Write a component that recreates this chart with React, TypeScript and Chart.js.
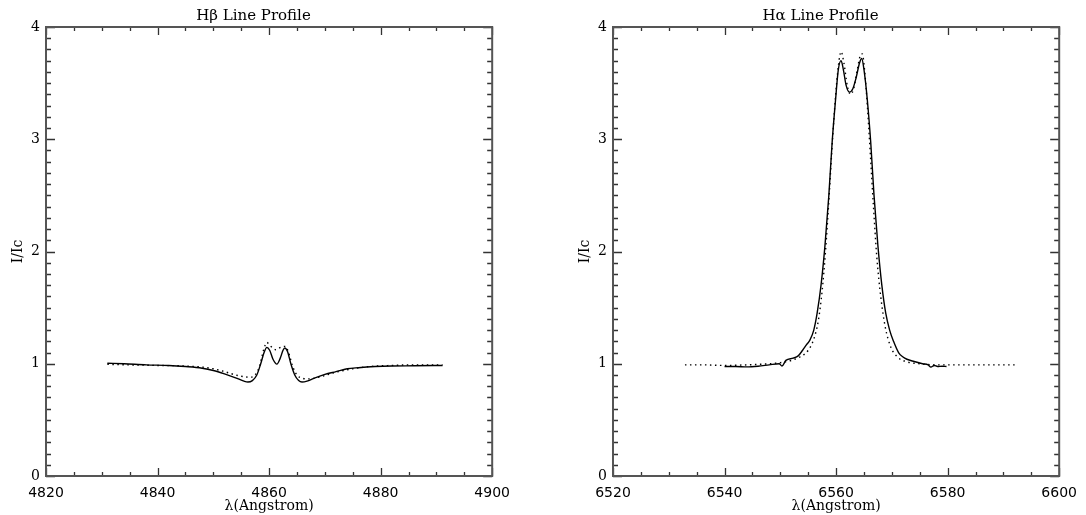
import React, { useEffect, useRef } from "react";
import { Chart, registerables } from "chart.js";

Chart.register(...registerables);

// ---------- Data ----------
// H-beta, solid profile
const hbSolidWave = [4831.0, 4834, 4838, 4842, 4845, 4848, 4850, 4852, 4854, 4855.5, 4856.2, 4857, 4857.8, 4858.5, 4859.1, 4859.6, 4860.1, 4860.7, 4861.4, 4862.0, 4862.5, 4862.8, 4863.3, 4863.9, 4864.6, 4865.3, 4865.9, 4866.8, 4868, 4870, 4872, 4874, 4876, 4879, 4882, 4886, 4891.1];
const hbSolidFlux = [1.005, 1.0, 0.99, 0.985, 0.975, 0.96, 0.94, 0.91, 0.875, 0.845, 0.837, 0.85, 0.9, 1.0, 1.1, 1.146, 1.12, 1.04, 0.997, 1.05, 1.12, 1.14, 1.11, 1.0, 0.9, 0.85, 0.837, 0.845, 0.87, 0.905, 0.93, 0.955, 0.965, 0.975, 0.98, 0.982, 0.985];
// H-beta, dotted profile
const hbDotWave = [4831.0, 4835, 4840, 4845, 4848, 4850, 4852, 4854, 4855.5, 4856.5, 4857.5, 4858.3, 4859.0, 4859.6, 4860.2, 4861.2, 4862.2, 4862.9, 4863.5, 4864.2, 4865, 4866, 4867, 4868, 4870, 4872, 4875, 4878, 4882, 4886, 4891.1];
const hbDotFlux = [0.995, 0.99, 0.985, 0.98, 0.97, 0.955, 0.93, 0.9, 0.885, 0.88, 0.9, 0.98, 1.12, 1.19, 1.16, 1.125, 1.15, 1.155, 1.1, 0.98, 0.9, 0.87, 0.865, 0.87, 0.895, 0.925, 0.955, 0.975, 0.985, 0.99, 0.99];

// H-alpha, solid profile
const haSolidWave = [6540.0, 6542, 6544, 6546, 6548, 6549.8, 6550.3, 6551, 6552.3, 6553.2, 6554.0, 6554.7, 6555.3, 6556.0, 6556.6, 6557.3, 6558.0, 6558.7, 6559.3, 6559.9, 6560.4, 6560.9, 6561.3, 6561.8, 6562.4, 6563.0, 6563.6, 6564.2, 6564.6, 6565.0, 6565.6, 6566.2, 6566.8, 6567.5, 6568.2, 6568.9, 6569.6, 6570.3, 6571.2, 6572.0, 6572.7, 6574.0, 6575.5, 6576.5, 6577.0, 6577.6, 6578.2, 6579.0, 6579.8];
const haSolidFlux = [0.975, 0.975, 0.972, 0.978, 0.99, 1.0, 0.98, 1.03, 1.05, 1.07, 1.12, 1.17, 1.21, 1.3, 1.45, 1.7, 2.05, 2.5, 2.98, 3.35, 3.62, 3.7, 3.62, 3.48, 3.42, 3.45, 3.55, 3.68, 3.72, 3.62, 3.35, 2.98, 2.5, 2.05, 1.7, 1.45, 1.3, 1.2, 1.1, 1.06, 1.04, 1.02, 1.0, 0.99, 0.97, 0.985, 0.975, 0.978, 0.976];
// H-alpha, dotted profile
const haDotWave = [6532.9, 6536, 6540, 6544, 6548, 6550, 6552, 6553.5, 6555, 6556, 6556.8, 6557.5, 6558.1, 6558.7, 6559.3, 6559.9, 6560.4, 6560.9, 6561.4, 6562.0, 6562.6, 6563.2, 6563.8, 6564.3, 6564.7, 6565.1, 6565.6, 6566.1, 6566.7, 6567.3, 6568.0, 6568.8, 6569.8, 6571, 6572.5, 6575, 6578, 6582, 6586, 6592.3];
const haDotFlux = [0.99, 0.99, 0.985, 0.99, 1.0, 1.01, 1.03, 1.06, 1.12, 1.22, 1.38, 1.65, 2.0, 2.45, 2.95, 3.38, 3.65, 3.78, 3.68, 3.48, 3.4, 3.46, 3.62, 3.74, 3.76, 3.62, 3.3, 2.9, 2.4, 1.95, 1.6, 1.33, 1.15, 1.06, 1.02, 1.0, 0.99, 0.99, 0.99, 0.99];

// Tick labels
const hbXTicks = [4820, 4840, 4860, 4880, 4900];
const haXTicks = [6520, 6540, 6560, 6580, 6600];
const yTicks = [0, 1, 2, 3, 4];

const toPoints = (xs: number[], ys: number[]) => xs.map((x, i) => ({ x, y: ys[i] }));

// ---------- Inward ticks + frame plugin ----------
const frameTicks = {
  id: "frameTicks",
  afterDraw(chart: any) {
    const { ctx, chartArea } = chart;
    const { left, right, top, bottom } = chartArea;
    const xs = chart.scales.x;
    const ys = chart.scales.y;
    ctx.save();
    ctx.strokeStyle = "#333";
    ctx.lineWidth = 1.3;
    ctx.beginPath();
    const xmin = xs.min, xmax = xs.max;
    for (let v = xmin; v <= xmax + 1e-6; v += 5) {
      const px = Math.round(xs.getPixelForValue(v)) + 0.5;
      const major = Math.abs((v - xmin) % 20) < 1e-6;
      const len = major ? 8 : 4;
      ctx.moveTo(px, bottom);
      ctx.lineTo(px, bottom - len);
      ctx.moveTo(px, top);
      ctx.lineTo(px, top + len);
    }
    for (let i = 0; i <= 40; i++) {
      const py = Math.round(ys.getPixelForValue(i / 10)) + 0.5;
      const major = i % 10 === 0;
      const len = major ? 9 : 5;
      ctx.moveTo(left, py);
      ctx.lineTo(left + len, py);
      ctx.moveTo(right, py);
      ctx.lineTo(right - len, py);
    }
    ctx.stroke();
    ctx.strokeStyle = "#555";
    ctx.lineWidth = 2;
    ctx.strokeRect(left, top, right - left, bottom - top);
    ctx.restore();
  },
};

function makeConfig(
  title: string,
  xmin: number,
  xmax: number,
  xTicks: number[],
  solid: { x: number; y: number }[],
  dotted: { x: number; y: number }[]
): any {
  return {
    type: "line",
    data: {
      datasets: [
        {
          label: "solid",
          data: solid,
          borderColor: "#000",
          borderWidth: 1.4,
          pointRadius: 0,
          cubicInterpolationMode: "monotone",
          fill: false,
        },
        {
          label: "dotted",
          data: dotted,
          borderColor: "#000",
          borderWidth: 1.4,
          borderDash: [1.5, 3.5],
          pointRadius: 0,
          cubicInterpolationMode: "monotone",
          fill: false,
        },
      ],
    },
    options: {
      responsive: false,
      animation: false,
      devicePixelRatio: 1,
      layout: { padding: { left: 10, right: 22, top: 0, bottom: 0 } },
      plugins: {
        legend: { display: false },
        tooltip: { enabled: false },
        title: {
          display: true,
          text: title,
          color: "#000",
          font: { family: "'DejaVu Serif', serif", size: 15, weight: "normal", lineHeight: 1.2 },
          padding: { top: 7, bottom: 2 },
        },
      },
      scales: {
        x: {
          type: "linear",
          min: xmin,
          max: xmax,
          grid: { display: false, drawTicks: false },
          border: { display: false },
          afterBuildTicks: (s: any) => {
            s.ticks = xTicks.map((v) => ({ value: v }));
          },
          afterFit: (s: any) => {
            s.height = 39;
          },
          ticks: {
            color: "#000",
            padding: 9,
            maxRotation: 0,
            autoSkip: false,
            font: { family: "'DejaVu Sans', sans-serif", size: 14 },
            callback: (v: any) => String(v),
          },
          title: {
            display: true,
            text: "λ(Angstrom)",
            color: "#000",
            font: { family: "'DejaVu Serif', serif", size: 14, lineHeight: 1.2 },
            padding: { top: 0, bottom: 0 },
          },
        },
        y: {
          type: "linear",
          min: 0,
          max: 4,
          grid: { display: false, drawTicks: false },
          border: { display: false },
          afterBuildTicks: (s: any) => {
            s.ticks = yTicks.map((v) => ({ value: v }));
          },
          afterFit: (s: any) => {
            s.width = 36;
          },
          ticks: {
            color: "#000",
            padding: 6,
            font: { family: "'DejaVu Serif', serif", size: 14 },
            callback: (v: any) => String(v),
          },
          title: {
            display: true,
            text: "I/Ic",
            color: "#000",
            font: { family: "'DejaVu Serif', serif", size: 14, lineHeight: 1.2 },
            padding: { top: 0, bottom: 0 },
          },
        },
      },
    },
    plugins: [frameTicks],
  };
}

export default function App() {
  const leftRef = useRef<HTMLCanvasElement>(null);
  const rightRef = useRef<HTMLCanvasElement>(null);

  useEffect(() => {
    const c1 = new Chart(
      leftRef.current as HTMLCanvasElement,
      makeConfig("Hβ Line Profile", 4820, 4900, hbXTicks, toPoints(hbSolidWave, hbSolidFlux), toPoints(hbDotWave, hbDotFlux))
    );
    const c2 = new Chart(
      rightRef.current as HTMLCanvasElement,
      makeConfig("Hα Line Profile", 6520, 6600, haXTicks, toPoints(haSolidWave, haSolidFlux), toPoints(haDotWave, haDotFlux))
    );
    return () => {
      c1.destroy();
      c2.destroy();
    };
  }, []);

  return (
    <div style={{ position: "absolute", left: 0, top: 0, width: 1086, height: 515, background: "#fff" }}>
      <canvas ref={leftRef} width={519} height={515} style={{ position: "absolute", left: 0, top: 0, width: 519, height: 515 }} />
      <canvas ref={rightRef} width={519} height={515} style={{ position: "absolute", left: 567, top: 0, width: 519, height: 515 }} />
    </div>
  );
}
